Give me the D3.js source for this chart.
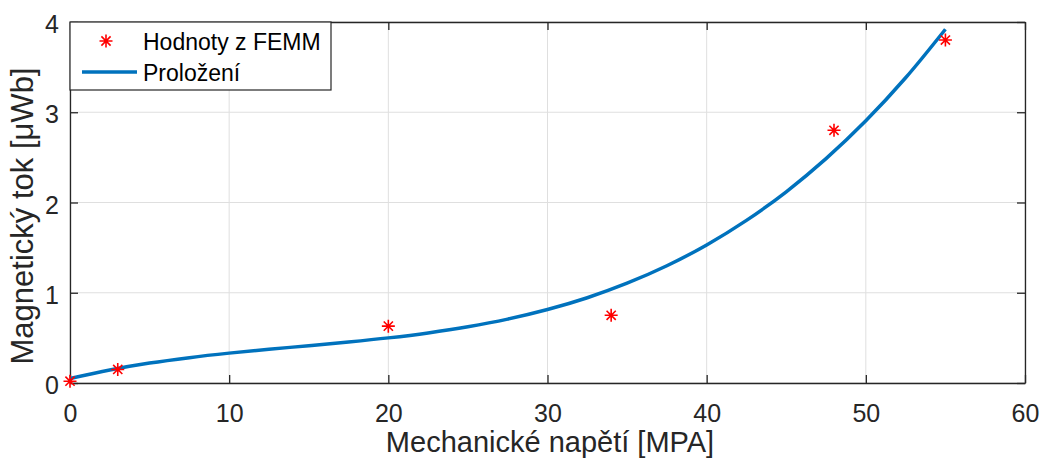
<!DOCTYPE html>
<html><head><meta charset="utf-8">
<script src="https://cdn.jsdelivr.net/npm/d3@7"></script>
<style>body{margin:0;background:#fff}svg{display:block}text{font-family:"Liberation Sans",Arial,sans-serif}</style>
</head><body><svg id="c" width="1042" height="466"></svg>
<script>
const femmX = [0, 3, 20, 34, 48, 55];
const femmY = [0.02, 0.15, 0.63, 0.75, 2.8, 3.8];
const fitX = [0,2.5,5,7.5,10,12.5,15,17.5,20,22.5,25,27.5,30,32.5,35,37.5,40,42.5,45,47.5,50,52.5,55];
const fitY = [0.050,0.145,0.221,0.281,0.331,0.374,0.413,0.454,0.500,0.555,0.623,0.708,0.814,0.945,1.106,1.299,1.530,1.802,2.119,2.486,2.905,3.382,3.920];
const xTicks = [0,10,20,30,40,50,60];
const yTicks = [0,1,2,3,4];
const legendLabels = ["Hodnoty z FEMM","Proložení"];
const xTitle = "Mechanické napětí [MPA]";
const yTitle = "Magnetický tok [μWb]";

const svg = d3.select("#c");
const L=70,R=1025,T=22,B=383;
const x = d3.scaleLinear().domain([0,60]).range([L,R]);
const y = d3.scaleLinear().domain([0,4]).range([B,T]);
const axisCol="#262626", gridCol="#dfdfdf";

// grid
svg.append("g").selectAll("line").data(xTicks).join("line")
  .attr("x1",d=>x(d)).attr("x2",d=>x(d)).attr("y1",T).attr("y2",B)
  .attr("stroke",gridCol).attr("stroke-width",1);
svg.append("g").selectAll("line").data(yTicks).join("line")
  .attr("y1",d=>y(d)).attr("y2",d=>y(d)).attr("x1",L).attr("x2",R)
  .attr("stroke",gridCol).attr("stroke-width",1);

// axes (inward ticks)
const tl=8, fmt=d3.format("d");
const gx = svg.append("g").attr("transform",`translate(0,${B})`)
  .call(d3.axisBottom(x).tickValues(xTicks).tickFormat(fmt).tickSizeInner(-tl).tickSizeOuter(0).tickPadding(21));
const gxt = svg.append("g").attr("transform",`translate(0,${T})`)
  .call(d3.axisTop(x).tickValues(xTicks).tickSizeInner(-tl).tickSizeOuter(0).tickFormat(""));
const gy = svg.append("g").attr("transform",`translate(${L},0)`)
  .call(d3.axisLeft(y).tickValues(yTicks).tickFormat(fmt).tickSizeInner(-tl).tickSizeOuter(0).tickPadding(11));
const gyr = svg.append("g").attr("transform",`translate(${R},0)`)
  .call(d3.axisRight(y).tickValues(yTicks).tickSizeInner(-tl).tickSizeOuter(0).tickFormat(""));
[gx,gxt,gy,gyr].forEach(g=>{
  g.select(".domain").attr("stroke",axisCol).attr("stroke-width",1.3);
  g.selectAll(".tick line").attr("stroke",axisCol).attr("stroke-width",1.3);
  g.selectAll(".tick text").attr("fill",axisCol).style("font-size","25px").style("font-family","'Liberation Sans',Arial,sans-serif");
});
gx.selectAll(".tick text").attr("dy","0.71em");
gy.selectAll(".tick text").attr("dy","0.42em");

// fit line
svg.append("path").datum(fitX.map((d,i)=>[d,fitY[i]]))
  .attr("d",d3.line().x(d=>x(d[0])).y(d=>y(d[1])).curve(d3.curveCatmullRom))
  .attr("fill","none").attr("stroke","#0072BD").attr("stroke-width",3.5);

// asterisk markers
function star(cx,cy,r){
  const a=r*0.7071;
  return `M${cx-r},${cy}L${cx+r},${cy}M${cx},${cy-r}L${cx},${cy+r}M${cx-a},${cy-a}L${cx+a},${cy+a}M${cx-a},${cy+a}L${cx+a},${cy-a}`;
}
svg.append("g").selectAll("path").data(femmX.map((d,i)=>[d,femmY[i]])).join("path")
  .attr("d",d=>star(x(d[0]),y(d[1]),6.5)).attr("stroke","#ff0000").attr("stroke-width",1.6).attr("fill","none");

// legend
const lg = svg.append("g");
lg.append("rect").attr("x",L).attr("y",T).attr("width",261).attr("height",68)
  .attr("fill","#fff").attr("stroke",axisCol).attr("stroke-width",1.2);
lg.append("path").attr("d",star(106,41,6.5)).attr("stroke","#ff0000").attr("stroke-width",1.6).attr("fill","none");
lg.append("line").attr("x1",82).attr("x2",137).attr("y1",72).attr("y2",72).attr("stroke","#0072BD").attr("stroke-width",3.5);
lg.selectAll("text").data(legendLabels).join("text")
  .attr("x",143).attr("y",(d,i)=>50+i*31)
  .attr("fill","#000").style("font-size","23px").text(d=>d);

// titles
svg.append("text").attr("x",550).attr("y",452).attr("text-anchor","middle")
  .attr("fill",axisCol).style("font-size","29px").text(xTitle);
svg.append("text").attr("transform",`translate(33,216) rotate(-90)`).attr("text-anchor","middle")
  .attr("fill",axisCol).style("font-size","31px").text(yTitle);
</script></body></html>
